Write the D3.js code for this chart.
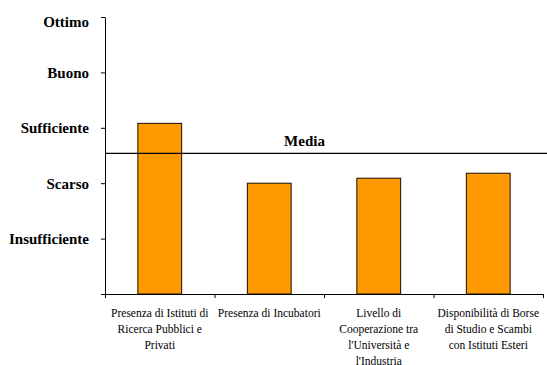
<!DOCTYPE html>
<html>
<head>
<meta charset="utf-8">
<script src="https://cdn.jsdelivr.net/npm/d3@7"></script>
<style>
  html, body { margin: 0; padding: 0; background: #fff; }
  svg { display: block; }
  svg text { font-family: "Liberation Serif", "Times New Roman", Times, serif; }
</style>
</head>
<body>
<svg id="chart" width="547" height="365"></svg>
<script>
// Categories (each label split into its printed lines)
const categories = [
  "Presenza di Istituti di Ricerca Pubblici e Privati",
  "Presenza di Incubatori",
  "Livello di Cooperazione tra l'Università e l'Industria",
  "Disponibilità di Borse di Studio e Scambi con Istituti Esteri"
];
const categoryLines = [
  ["Presenza di Istituti di", "Ricerca Pubblici e", "Privati"],
  ["Presenza di Incubatori"],
  ["Livello di", "Cooperazione tra", "l'Università e", "l'Industria"],
  ["Disponibilità di Borse", "di Studio e Scambi", "con Istituti Esteri"]
];
// Rating per category on a 0–5 scale
const values = [3.08, 2.0, 2.09, 2.18];
// Average reference line
const mediaValue = 2.54;
const mediaLabel = "Media";
// Rating scale labels
const levelValues = [0, 1, 2, 3, 4, 5];
const levelLabels = ["", "Insufficiente", "Scarso", "Sufficiente", "Buono", "Ottimo"];

const FONT = "'Liberation Serif', 'Times New Roman', Times, serif";
const svg = d3.select("#chart");
const plotLeft = 105, plotRight = 543, plotTop = 17, plotBottom = 294;

const y = d3.scaleLinear().domain([0, 5]).range([plotBottom, plotTop]);
const x = d3.scaleBand().domain(categories).range([plotLeft, plotRight])
  .paddingInner(0.6).paddingOuter(0.3);
const xEdges = d3.scaleLinear().domain([0, categories.length]).range([plotLeft, plotRight]);

// Bars
svg.append("g").selectAll("rect").data(values).join("rect")
  .attr("x", (d, i) => x(categories[i]))
  .attr("y", d => y(d))
  .attr("width", x.bandwidth())
  .attr("height", d => y(0) - y(d))
  .attr("fill", "#ff9900")
  .attr("stroke", "#1a1000")
  .attr("stroke-width", 1);

// Average line across the plot
svg.append("line")
  .attr("x1", plotLeft).attr("x2", 547)
  .attr("y1", y(mediaValue)).attr("y2", y(mediaValue))
  .attr("stroke", "#000").attr("stroke-width", 1.2);
svg.append("text")
  .attr("x", 304.5).attr("y", y(mediaValue) - 7)
  .attr("text-anchor", "middle")
  .attr("font-family", FONT)
  .attr("font-weight", "bold").attr("font-size", 15)
  .text(mediaLabel);

// Y axis
const yAxis = svg.append("g")
  .attr("transform", `translate(${plotLeft},0)`)
  .call(d3.axisLeft(y).tickValues(levelValues)
    .tickFormat((d, i) => levelLabels[i]).tickSize(4).tickSizeOuter(0).tickPadding(12));
yAxis.attr("font-family", FONT);
yAxis.selectAll("text")
  .attr("font-weight", "bold").attr("font-size", 15).attr("fill", "#000");
// The top label sits a little lower so it stays clear of the upper edge
yAxis.selectAll(".tick text").filter(d => d === 5).attr("dy", "0.6em");
yAxis.selectAll("line,path").attr("stroke", "#000");

// X axis with ticks at category boundaries
const xAxis = svg.append("g")
  .attr("transform", `translate(0,${plotBottom})`)
  .call(d3.axisBottom(xEdges).tickValues(d3.range(categories.length + 1))
    .tickFormat("").tickSize(4).tickSizeOuter(0));
xAxis.selectAll("line,path").attr("stroke", "#000");

// Category labels
const labels = svg.append("g").selectAll("text").data(categories).join("text")
  .attr("text-anchor", "middle")
  .attr("font-family", FONT)
  .attr("font-size", 11.5)
  .attr("fill", "#000")
  .attr("transform", d => `translate(${x(d) + x.bandwidth() / 2},${plotBottom + 23})`);
labels.each(function (d, i) {
  d3.select(this).selectAll("tspan").data(categoryLines[i]).join("tspan")
    .attr("x", 0).attr("dy", (t, j) => j === 0 ? 0 : 16)
    .text(t => t);
});
</script>
</body>
</html>
